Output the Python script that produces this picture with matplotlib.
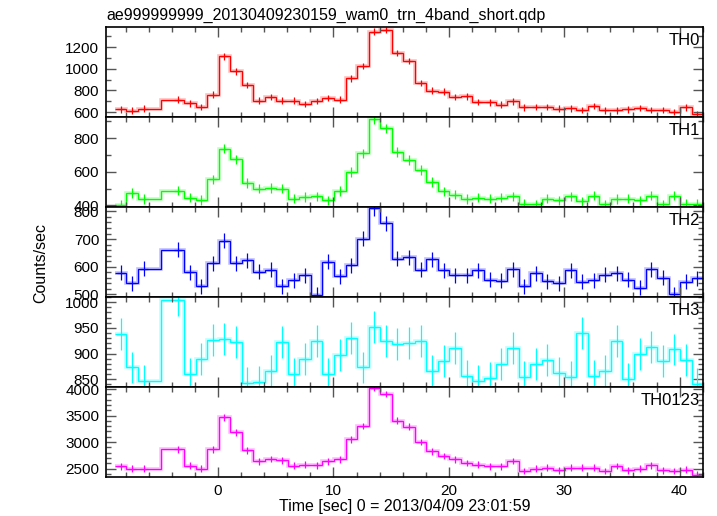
import numpy as np
import matplotlib
matplotlib.use('Agg')
import matplotlib.pyplot as plt
from matplotlib.ticker import MultipleLocator

plt.rcParams['font.family'] = ['Liberation Sans', 'DejaVu Sans']
plt.rcParams['font.size'] = 11

# bin centres [sec]; two bins (-5.45, -4.45) are missing
time = [-8.45, -7.45, -6.45] + [round(-3.45 + i, 2) for i in range(46)]

th0 = [625, 613, 631, 716, 680, 649, 762, 1114, 976, 851, 707, 738, 707, 707,
       677, 701, 732, 716, 912, 1025, 1343, 1359, 1145, 1070, 870, 799, 790,
       738, 744, 692, 689, 668, 698, 643, 649, 649, 631, 635, 618, 655, 616,
       616, 625, 637, 618, 618, 600, 643, 582]
th1 = [402, 474, 438, 488, 446, 432, 554, 737, 674, 532, 500, 502, 500, 440,
       450, 454, 430, 486, 598, 710, 913, 859, 718, 669, 610, 540, 484, 464,
       438, 446, 440, 446, 454, 410, 406, 440, 430, 454, 424, 458, 406, 438,
       440, 430, 458, 406, 458, 410, 410]
th2 = [578, 540, 593, 661, 581, 530, 613, 694, 613, 623, 583, 589, 529, 551,
       570, 499, 618, 566, 605, 701, 812, 757, 629, 634, 589, 627, 588, 569,
       570, 588, 554, 549, 591, 530, 577, 548, 540, 588, 546, 552, 572, 576,
       554, 525, 591, 560, 500, 546, 558]
th3 = [938, 873, 846, 1004, 860, 890, 927, 929, 922, 842, 844, 866, 922, 861,
       890, 924, 860, 898, 931, 873, 951, 924, 918, 920, 924, 866, 885, 910,
       857, 846, 853, 879, 910, 855, 879, 888, 862, 855, 940, 857, 866, 925,
       851, 900, 913, 885, 908, 888, 840]
th0123 = [2544, 2500, 2500, 2860, 2557, 2500, 2860, 3468, 3183, 2842, 2639,
          2683, 2658, 2557, 2576, 2563, 2639, 2671, 3050, 3303, 4018, 3904,
          3403, 3290, 2999, 2828, 2739, 2671, 2607, 2576, 2544, 2544, 2645,
          2455, 2500, 2519, 2468, 2519, 2519, 2519, 2455, 2550, 2468, 2500,
          2563, 2468, 2455, 2481, 2386]

names = ['TH0', 'TH1', 'TH2', 'TH3', 'TH0123']
series = [th0, th1, th2, th3, th0123]
errors = [30, 28, 27, 31, 63]
colors = ['#ff0000', '#00ff00', '#0000ff', '#00ffff', '#ff00ff']
ylims = [(555, 1385), (390, 926), (491, 816), (835, 1010), (2341, 4038)]
ymajor = [200, 200, 100, 50, 500]
yminor = [100, 100, 20, 10, 100]

t = np.array(time)
edges = np.concatenate([[t[0] - 0.5], (t[:-1] + t[1:]) / 2, [t[-1] + 0.5]])

fig, axes = plt.subplots(5, 1, sharex=True, figsize=(7.17, 5.16), dpi=100)
fig.subplots_adjust(left=0.148, right=0.980, bottom=0.0756, top=0.9477, hspace=0)

for ax, name, y, err, c, yl, ma, mi in zip(axes, names, series, errors, colors,
                                          ylims, ymajor, yminor):
    # pale halo under the step line, as in the qdp/pgplot rendering
    ax.stairs(y, edges, baseline=None, color=c, lw=2.6, alpha=0.25)
    ax.stairs(y, edges, baseline=None, color=c, lw=0.9)
    ax.errorbar(t, y, yerr=err, xerr=0.35, fmt='none', ecolor=c, elinewidth=0.9)
    ax.set_ylim(yl)
    ax.set_xlim(-9.7, 42.0)
    ax.yaxis.set_major_locator(MultipleLocator(ma))
    ax.yaxis.set_minor_locator(MultipleLocator(mi))
    ax.xaxis.set_major_locator(MultipleLocator(10))
    ax.xaxis.set_minor_locator(MultipleLocator(2))
    ax.tick_params(which='both', direction='in', top=True, right=True,
                   color='#555555', width=1.0)
    ax.tick_params(which='major', length=7, pad=5)
    ax.tick_params(which='minor', length=3.5)
    for s in ax.spines.values():
        s.set_linewidth(1.2)
    ax.text(0.995, 0.93, name, transform=ax.transAxes, ha='right', va='top',
            fontsize=12)

axes[0].set_title('ae999999999_20130409230159_wam0_trn_4band_short.qdp',
                  loc='left', fontsize=11.5, pad=5)
axes[-1].set_xlabel('Time [sec] 0 = 2013/04/09 23:01:59', fontsize=11.5, labelpad=1)
fig.text(0.057, 0.49, 'Counts/sec', rotation=90, ha='center', va='center',
         fontsize=11.5)

plt.savefig('out.png', dpi=100)
